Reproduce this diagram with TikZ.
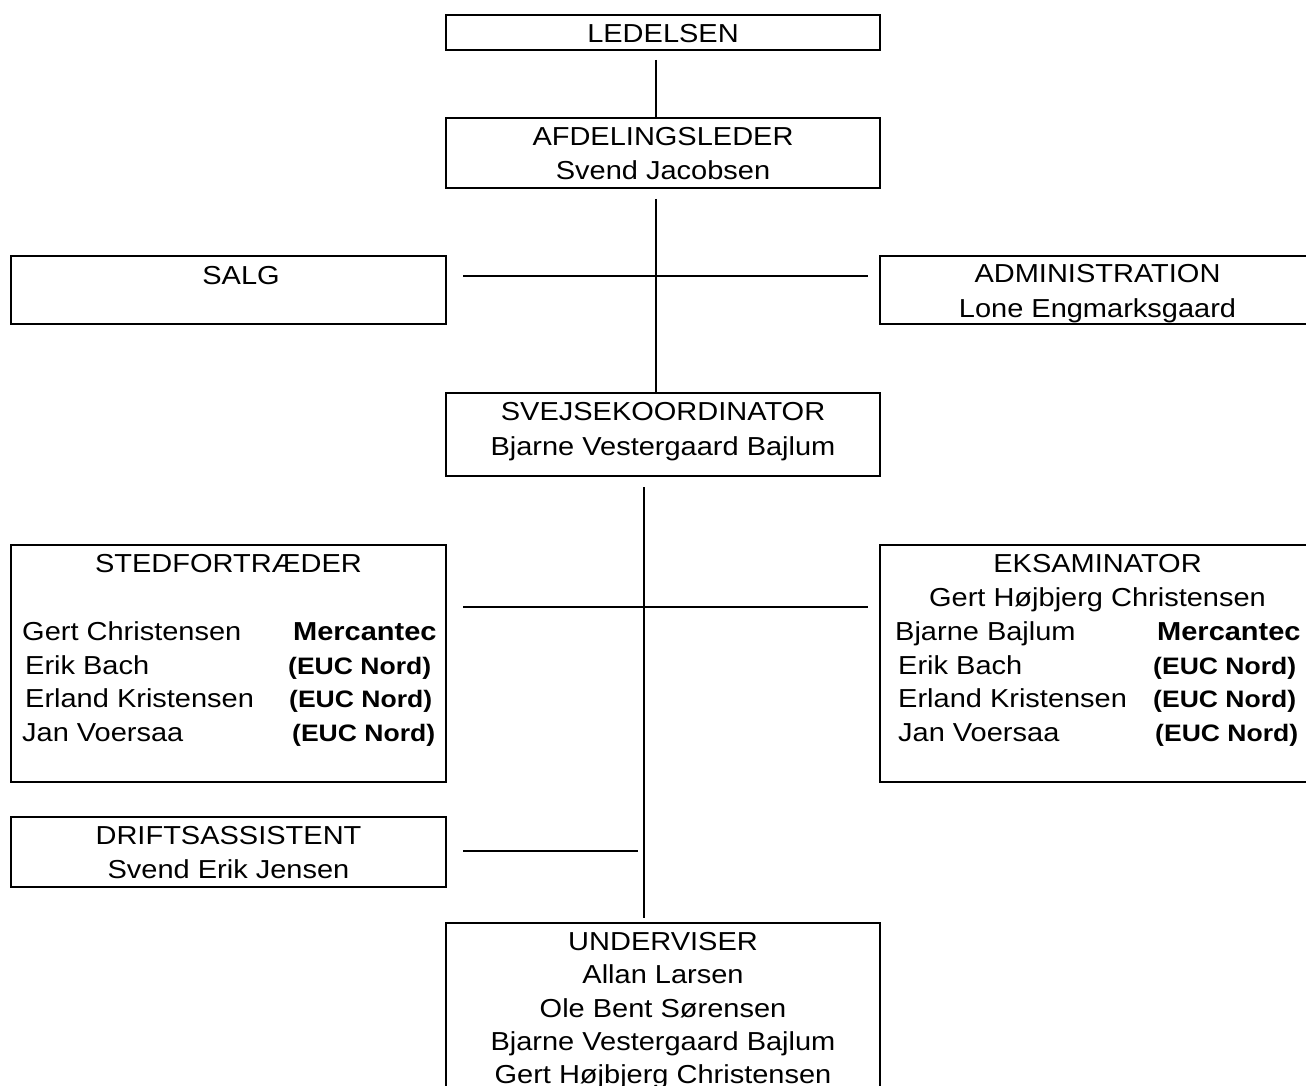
\documentclass[tikz,border=0pt]{standalone}
\usepackage{fontspec}
\setmainfont{Liberation Sans}[FakeStretch=1.115]
\begin{document}
\begin{tikzpicture}[x=1pt,y=-1pt,
  box/.style={draw, line width=2.9pt, rectangle, inner sep=0pt, outer sep=0pt},
  wide/.style={minimum width=434pt},
  side/.style={minimum width=435pt},
  wire/.style={line width=1.8pt},
  txt/.style={anchor=base, inner sep=0pt, font=\fontsize{26}{33}\selectfont},
  txtl/.style={txt, anchor=base west},
  org/.style={txtl, font=\fontsize{26}{33}\selectfont\bfseries},
  orgs/.style={txtl, font=\fontsize{23.8}{30}\selectfont\bfseries}]
\useasboundingbox (0,0) rectangle (1306,1086);
\clip (0,0) rectangle (1306,1086);

% boxes
\node[box, wide, minimum height=35pt]  (led)  at (663,32.5)   {};
\node[box, wide, minimum height=70pt]  (afd)  at (663,153)    {};
\node[box, side, minimum height=68pt]  (salg) at (228.5,290)  {};
\node[box, side, minimum height=68pt]  (adm)  at (1097.5,290) {};
\node[box, wide, minimum height=83pt]  (svk)  at (663,434.5)  {};
\node[box, side, minimum height=237pt] (stf)  at (228.5,663.5) {};
\node[box, side, minimum height=237pt] (eks)  at (1097.5,663.5) {};
\node[box, side, minimum height=70pt]  (dri)  at (228.5,852)  {};
\node[box, wide, minimum height=190pt] (und)  at (663,1018)   {};

% junctions of the connectors
\coordinate (j1) at (656,276);
\coordinate (j2) at (644,607);
\coordinate (j3) at (638,851);

% connectors
\draw[wire, shorten <=10pt] (led.south -| j1) -- (afd.north -| j1);
\draw[wire, shorten <=11pt] (afd.south -| j1) -- (svk.north -| j1);
\draw[wire, shorten <=17pt, shorten >=12pt] (salg.east |- j1) -- (adm.west |- j1);
\draw[wire, shorten <=11pt, shorten >=5pt] (svk.south -| j2) -- (und.north -| j2);
\draw[wire, shorten <=17pt, shorten >=12pt] (stf.east |- j2) -- (eks.west |- j2);
\draw[wire, shorten <=17pt] (dri.east |- j3) -- (j3);

% texts
\node[txt] (led-t)  at (663,43)  {LEDELSEN};
\node[txt] (afd-t1) at (663,146) {AFDELINGSLEDER};
\node[txt] (afd-t2) at (663,180) {Svend Jacobsen};
\node[txt] (salg-t) at (241,284) {SALG};
\node[txt] (adm-t1) at (1097.5,282) {ADMINISTRATION};
\node[txt] (adm-t2) at (1097.5,317) {Lone Engmarksgaard};
\node[txt] (svk-t1) at (663,420) {SVEJSEKOORDINATOR};
\node[txt] (svk-t2) at (663,455) {Bjarne Vestergaard Bajlum};

\node[txt]  (stf-t)  at (228.5,572) {STEDFORTRÆDER};
\node[txtl] (stf-n1) at (22,640)  {Gert Christensen};
\node[txtl] (stf-n2) at (25,674)  {Erik Bach};
\node[txtl] (stf-n3) at (25,707)  {Erland Kristensen};
\node[txtl] (stf-n4) at (22,741)  {Jan Voersaa};
\node[org]  (stf-o1) at (293,640) {Mercantec};
\node[orgs] (stf-o2) at (288,674) {(EUC Nord)};
\node[orgs] (stf-o3) at (289,707) {(EUC Nord)};
\node[orgs] (stf-o4) at (292,741) {(EUC Nord)};

\node[txt]  (eks-t1) at (1097.5,572) {EKSAMINATOR};
\node[txt]  (eks-t2) at (1097.5,606) {Gert Højbjerg Christensen};
\node[txtl] (eks-n1) at (895,640)  {Bjarne Bajlum};
\node[txtl] (eks-n2) at (898,674)  {Erik Bach};
\node[txtl] (eks-n3) at (898,707)  {Erland Kristensen};
\node[txtl] (eks-n4) at (898,741)  {Jan Voersaa};
\node[org]  (eks-o1) at (1157,640) {Mercantec};
\node[orgs] (eks-o2) at (1153,674) {(EUC Nord)};
\node[orgs] (eks-o3) at (1153,707) {(EUC Nord)};
\node[orgs] (eks-o4) at (1155,741) {(EUC Nord)};

\node[txt] (dri-t1) at (228.5,844) {DRIFTSASSISTENT};
\node[txt] (dri-t2) at (228.5,878) {Svend Erik Jensen};

\node[txt] (und-t1) at (663,950)  {UNDERVISER};
\node[txt] (und-t2) at (663,983)  {Allan Larsen};
\node[txt] (und-t3) at (663,1017) {Ole Bent Sørensen};
\node[txt] (und-t4) at (663,1050) {Bjarne Vestergaard Bajlum};
\node[txt] (und-t5) at (663,1083) {Gert Højbjerg Christensen};
\end{tikzpicture}
\end{document}
